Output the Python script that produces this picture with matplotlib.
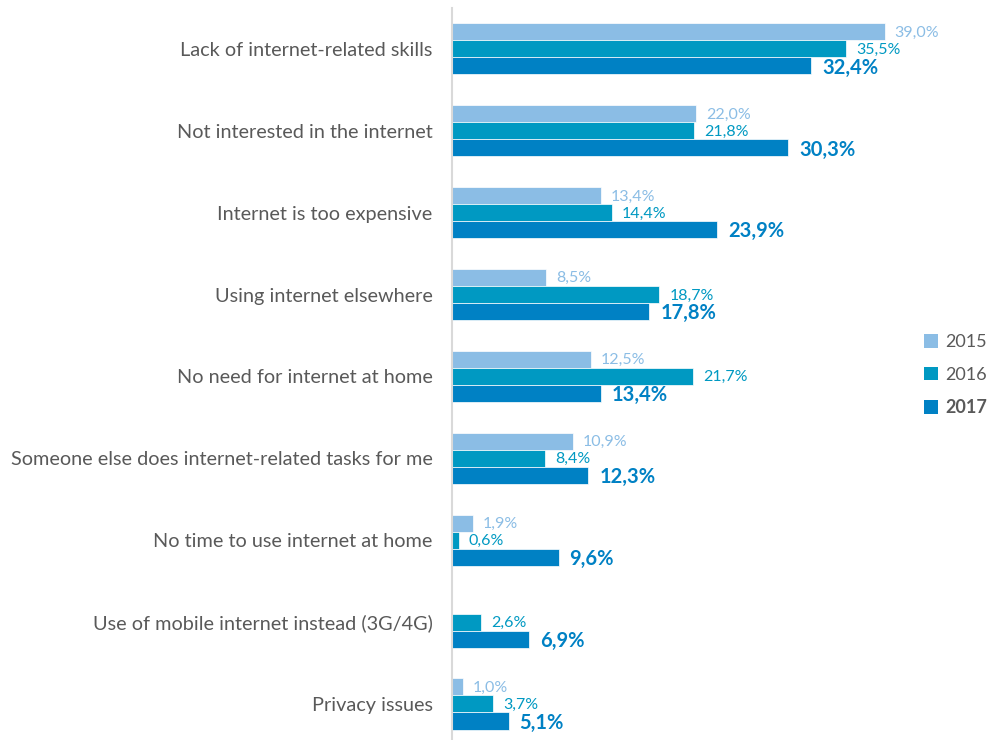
import matplotlib.pyplot as plt
from matplotlib.patches import Patch
import numpy as np

plt.rcParams['font.family'] = ['Lato', 'DejaVu Sans']

# Datos del grafico
categorias = [
    "Lack of internet-related skills",
    "Not interested in the internet",
    "Internet is too expensive",
    "Using internet elsewhere",
    "No need for internet at home",
    "Someone else does internet-related tasks for me",
    "No time to use internet at home",
    "Use of mobile internet instead (3G/4G)",
    "Privacy issues",
]
anios = ["2015", "2016", "2017"]
valores_2015 = [39.0, 22.0, 13.4, 8.5, 12.5, 10.9, 1.9, None, 1.0]
valores_2016 = [35.5, 21.8, 14.4, 18.7, 21.7, 8.4, 0.6, 2.6, 3.7]
valores_2017 = [32.4, 30.3, 23.9, 17.8, 13.4, 12.3, 9.6, 6.9, 5.1]

colores = ["#8BBDE5", "#0099C2", "#0081C4"]
gris = "#595959"

fig = plt.figure(figsize=(9.91, 7.4), dpi=100)
ax = fig.add_axes([452 / 991, 0, 466 / 991, 732 / 740])

y = np.arange(len(categorias))
alto = 0.208
series = [valores_2015, valores_2016, valores_2017]

for i, (vals, color) in enumerate(zip(series, colores)):
    desplaz = (i - 1) * alto
    for j, v in enumerate(vals):
        if v is None:
            continue
        ax.barh(y[j] + desplaz, v, height=alto, color=color,
                edgecolor="white", linewidth=0.5)
        texto = f"{v:.1f}%".replace(".", ",")
        if i == 2:
            ax.text(v + 1.0, y[j] + desplaz + 0.02, texto, color=color,
                    fontsize=14.5, fontweight="bold", va="center", ha="left")
        else:
            ax.text(v + 0.9, y[j] + desplaz + 0.01, texto, color=color,
                    fontsize=11.5, va="center", ha="left")

ax.set_xlim(0, 42)
ax.set_ylim(8.44, -0.5)
ax.set_yticks(y)
ax.set_yticklabels(categorias, fontsize=14.3, color=gris)
ax.tick_params(axis="y", length=0, pad=14)
ax.set_xticks([])
for lado in ["top", "right", "bottom"]:
    ax.spines[lado].set_visible(False)
ax.spines["left"].set_color("#D9D9D9")
ax.spines["left"].set_linewidth(1.5)

# Leyenda
manejadores = [Patch(facecolor=c, edgecolor="none") for c in colores]
leg = fig.legend(manejadores, anios, loc="center left",
                 bbox_to_anchor=(924 / 991, 1 - 375 / 740), frameon=False,
                 fontsize=13, handlelength=0.8, handleheight=0.8,
                 handletextpad=0.4, labelspacing=0.9, labelcolor=gris,
                 borderpad=0, borderaxespad=0)
leg.get_texts()[2].set_fontweight("bold")

plt.savefig("out.png")
